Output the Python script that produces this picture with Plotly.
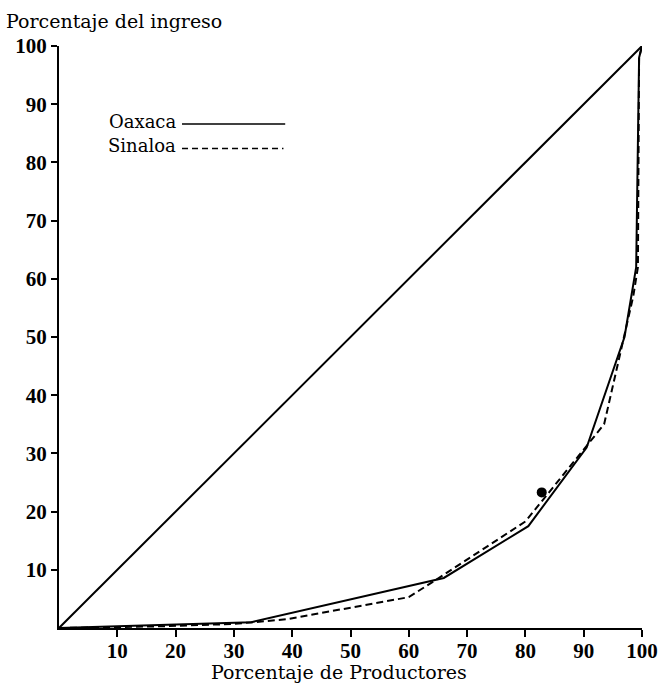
import plotly.graph_objects as go

# Data
diag_x = [0, 100]
diag_y = [0, 100]

oaxaca_x = [0, 33, 66, 80.5, 90.5, 97, 99, 99.5, 100]
oaxaca_y = [0, 1, 8.6, 17.5, 31, 50, 62, 98, 100]

sinaloa_x = [0, 18, 30, 39, 60, 65, 80, 93.5, 98.5, 99.3, 99.5, 100]
sinaloa_y = [0, 0.3, 0.7, 1.5, 5.3, 8.5, 18.3, 35, 57, 62, 98, 100]

spot_x = [82.8]
spot_y = [23.3]

tick_vals = [10, 20, 30, 40, 50, 60, 70, 80, 90, 100]
tick_text = [str(v) for v in tick_vals]

FONT = "Liberation Serif"
TFONT = "DejaVu Serif"

fig = go.Figure()
fig.add_trace(go.Scatter(x=diag_x, y=diag_y, mode="lines",
                         line=dict(color="black", width=2), showlegend=False, cliponaxis=False))
fig.add_trace(go.Scatter(x=oaxaca_x, y=oaxaca_y, mode="lines", name="Oaxaca",
                         line=dict(color="black", width=2), showlegend=False, cliponaxis=False))
fig.add_trace(go.Scatter(x=sinaloa_x, y=sinaloa_y, mode="lines", name="Sinaloa",
                         line=dict(color="black", width=2, dash="7px,4px"), showlegend=False, cliponaxis=False))
fig.add_trace(go.Scatter(x=spot_x, y=spot_y, mode="markers",
                         marker=dict(color="black", size=10), showlegend=False, cliponaxis=False))

# legend (text before the line sample, as in the original)
fig.add_annotation(x=0.204, y=0.871, xref="paper", yref="paper", text="Oaxaca",
                   showarrow=False, xanchor="right", yanchor="middle",
                   font=dict(family=TFONT, size=18, color="black"))
fig.add_annotation(x=0.204, y=0.829, xref="paper", yref="paper", text="Sinaloa",
                   showarrow=False, xanchor="right", yanchor="middle",
                   font=dict(family=TFONT, size=18, color="black"))
fig.add_shape(type="line", xref="paper", yref="paper", x0=0.211, x1=0.388, y0=0.866, y1=0.866,
              line=dict(color="black", width=1.5))
fig.add_shape(type="line", xref="paper", yref="paper", x0=0.211, x1=0.385, y0=0.824, y1=0.824,
              line=dict(color="black", width=1.5, dash="6px,4px"))

fig.add_annotation(x=0, y=1, xref="paper", yref="paper", xshift=-55, yshift=12,
                   text="Porcentaje del ingreso", showarrow=False, xanchor="left", yanchor="bottom",
                   font=dict(family=TFONT, size=19, color="black"))
fig.add_annotation(x=0.48, y=0, xref="paper", yref="paper", yshift=-44,
                   text="Porcentaje de Productores", showarrow=False, xanchor="center", yanchor="middle",
                   font=dict(family=TFONT, size=19, color="black"))

fig.update_layout(
    width=659, height=685,
    margin=dict(l=59, r=17, t=46, b=57),
    paper_bgcolor="white", plot_bgcolor="white",
    font=dict(family=FONT, color="black"),
    xaxis=dict(range=[0, 100], tickvals=tick_vals, ticktext=tick_text, automargin=False,
               showgrid=False, zeroline=False, showline=True, linecolor="black", linewidth=2,
               ticks="outside", ticklen=7, tickwidth=2, tickcolor="black", ticklabelstandoff=-4,
               ticklabeloverflow="allow",
               tickfont=dict(family=FONT, size=21, color="black", weight="bold")),
    yaxis=dict(range=[0, 100], tickvals=tick_vals, ticktext=tick_text, automargin=False,
               showgrid=False, zeroline=False, showline=True, linecolor="black", linewidth=2,
               ticks="outside", ticklen=6, tickwidth=2, tickcolor="black",
               ticklabeloverflow="allow",
               tickfont=dict(family=FONT, size=21, color="black", weight="bold")),
)

# remove the default 8px page margin so the 659x685 figure fills the window exactly
fig.write_html("out.html", config={"displayModeBar": False},
               post_script="document.body.style.margin='0';document.body.style.overflow='hidden';")
